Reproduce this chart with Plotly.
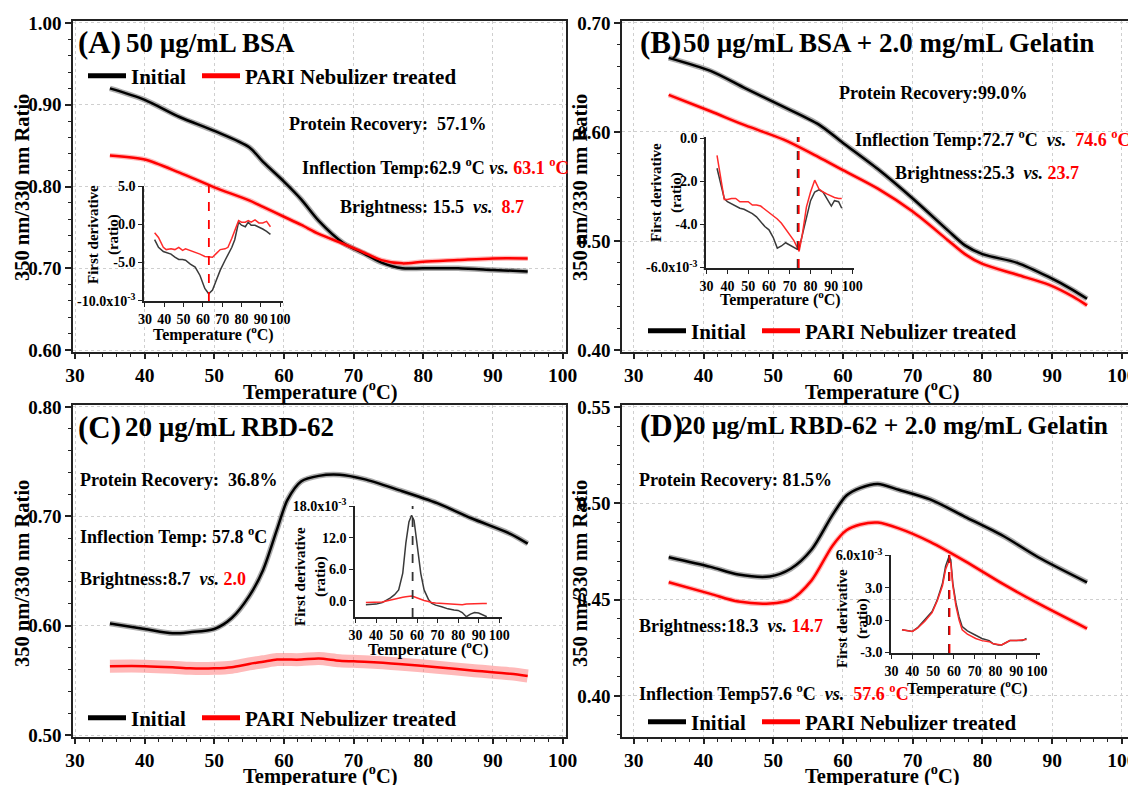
import plotly.graph_objects as go

# The page body adds an 8px margin, so the figure is sized to fill the rest of the window
OFF = 8
W, H = 1136 - OFF, 785 - OFF
FONT = "Liberation Serif"

# ---------------- main curves (350/330 ratio vs temperature) ----------------
a_temp = [35, 40, 45, 50, 55, 57, 60, 62.5, 65, 68.5, 71.5, 74, 77, 80, 85, 90, 95]
a_init = [0.920, 0.906, 0.885, 0.868, 0.848, 0.830, 0.806, 0.784, 0.758, 0.731, 0.718, 0.707, 0.700, 0.700, 0.700, 0.698, 0.696]
a_treat = [0.838, 0.833, 0.817, 0.799, 0.783, 0.775, 0.763, 0.753, 0.742, 0.730, 0.719, 0.710, 0.706, 0.708, 0.710, 0.712, 0.712]

b_temp = [35, 41, 46, 51.5, 56.5, 60, 65, 70, 75, 77.5, 80, 85, 89.5, 93, 95]
b_init = [0.668, 0.656, 0.640, 0.623, 0.607, 0.590, 0.566, 0.539, 0.510, 0.496, 0.488, 0.480, 0.467, 0.455, 0.447]
b_treat = [0.634, 0.619, 0.606, 0.593, 0.577, 0.565, 0.548, 0.527, 0.501, 0.488, 0.479, 0.469, 0.460, 0.449, 0.441]

c_temp = [35, 40, 44, 46.5, 50, 52.5, 55, 57, 59, 60.5, 62.5, 65, 68, 71.5, 76.5, 82, 87, 92.5, 95]
c_init = [0.602, 0.597, 0.593, 0.594, 0.597, 0.607, 0.627, 0.651, 0.688, 0.715, 0.732, 0.737, 0.738, 0.734, 0.724, 0.712, 0.698, 0.684, 0.675]
c_treat = [0.563, 0.563, 0.562, 0.561, 0.561, 0.562, 0.565, 0.567, 0.569, 0.569, 0.569, 0.570, 0.568, 0.567, 0.565, 0.562, 0.559, 0.556, 0.554]

d_temp = [35, 41, 45, 49.5, 52.5, 55.5, 58.5, 60.5, 62.5, 65, 68, 72.5, 77.5, 83, 88, 95]
d_init = [0.472, 0.467, 0.463, 0.462, 0.466, 0.476, 0.494, 0.504, 0.508, 0.510, 0.507, 0.502, 0.493, 0.483, 0.472, 0.459]
d_treat = [0.459, 0.453, 0.449, 0.448, 0.450, 0.460, 0.478, 0.486, 0.489, 0.490, 0.487, 0.480, 0.470, 0.458, 0.448, 0.435]

# ---------------- inset first-derivative curves (x10^-3) ----------------
ai_temp = [35, 37, 39.5, 41, 43.5, 45.5, 47.5, 49.5, 51, 53.5, 56, 58.5, 61, 63, 65, 67, 69, 71.5, 73, 75, 76.5, 78.5, 80, 82, 83.5, 85, 87, 89, 91, 93, 95]
ai_init = [-2.0, -3.0, -3.55, -3.7, -3.9, -4.3, -4.6, -4.6, -4.7, -5.2, -5.6, -6.7, -8.4, -9.1, -8.6, -7.3, -6.0, -4.7, -4.0, -3.0, -2.0, 0.3, -0.1, -0.3, 0.3, -0.1, -0.1, -0.3, -0.6, -0.9, -1.3]
ai_treat = [-1.1, -1.7, -3.0, -3.3, -3.2, -3.3, -3.0, -3.4, -3.2, -3.4, -3.6, -3.9, -4.2, -4.3, -4.3, -3.8, -3.3, -3.2, -3.0, -1.8, -0.9, 0.5, 0.3, 0.3, 0.5, 0.3, 0.6, 0.2, 0.2, 0.4, -0.3]

bi_temp = [35, 37, 38.5, 40, 42, 44, 46, 48, 50, 52, 54, 56, 58, 60, 62, 64, 66, 68, 70, 72, 73.5, 74.5, 76, 78, 80, 82, 84, 86, 88, 90, 91.5, 93.5, 95]
bi_init = [-1.4, -2.2, -2.8, -2.95, -3.05, -3.15, -3.25, -3.3, -3.4, -3.5, -3.65, -3.9, -4.1, -4.25, -4.6, -5.1, -5.0, -4.85, -4.95, -5.05, -5.15, -5.1, -4.5, -3.6, -2.9, -2.5, -2.4, -2.5, -2.85, -3.15, -2.9, -2.95, -3.25]
bi_treat = [-0.8, -2.0, -2.85, -2.85, -2.8, -2.8, -2.95, -2.95, -2.95, -3.1, -3.1, -3.15, -3.3, -3.45, -3.6, -3.75, -3.95, -4.2, -4.45, -4.75, -5.05, -5.25, -4.5, -3.2, -2.5, -1.95, -2.35, -2.5, -2.6, -2.7, -2.75, -2.8, -2.8]

ci_temp = [35, 40, 43, 45, 47, 49, 51, 53, 54.5, 56, 57.3, 58.5, 59.8, 61.8, 63.4, 65.5, 67, 69, 72, 75, 78, 80, 82, 84, 86, 88, 90, 92, 94]
ci_init = [-0.7, -0.6, -0.3, 0.1, 0.6, 1.2, 2.1, 5.3, 11.0, 15.0, 16.3, 15.3, 11.6, 5.2, 2.1, 0.3, -0.4, -0.8, -1.1, -1.5, -1.7, -1.8, -2.2, -3.0, -2.5, -2.2, -2.3, -2.6, -3.0]
ci_treat = [-0.3, -0.3, -0.2, 0.0, 0.2, 0.35, 0.5, 0.7, 0.8, 0.9, 0.95, 0.8, 0.6, 0.3, 0.1, -0.1, -0.3, -0.4, -0.5, -0.6, -0.7, -0.75, -0.7, -0.6, -0.55, -0.5, -0.5, -0.5, -0.5]

di_temp = [35, 38, 40, 42.5, 46, 49.5, 52, 54.5, 56, 57.6, 58.5, 59.5, 61, 62.5, 64, 66.5, 70.5, 73.5, 77, 79, 81.5, 83, 85, 87, 90, 93, 95]
di_init = [-0.9, -1.0, -1.05, -0.7, 0.0, 0.8, 1.9, 3.4, 5.0, 5.9, 5.6, 3.4, 1.6, 0.3, -0.6, -1.0, -1.4, -1.7, -1.9, -2.2, -2.3, -2.3, -2.1, -1.9, -1.9, -1.9, -1.7]
di_treat = [-0.9, -1.0, -1.05, -0.75, -0.1, 0.7, 1.8, 3.2, 4.7, 5.5, 5.3, 3.2, 1.3, 0.0, -0.9, -1.3, -1.7, -1.9, -2.0, -2.2, -2.3, -2.3, -2.1, -1.9, -1.9, -1.85, -1.8]

# inflection temperatures shown by dashed lines in insets
a_tm = {"treat": 63.1}
b_tm = {"init": 73.8, "treat": 74.3}
c_tm = {"init": 57.8}
d_tm = {"init": 57.6, "treat": 57.9}

# ---------------- texts ----------------
series_names = ["Initial", "PARI Nebulizer treated"]
panel_letters = ["(A)", "(B)", "(C)", "(D)"]
panel_titles = ["50 µg/mL BSA", "50 µg/mL BSA + 2.0 mg/mL Gelatin",
                "20 µg/mL RBD-62", "20 µg/mL RBD-62 + 2.0 mg/mL Gelatin"]
title_sizes = [27, 27, 27, 25.5]
RED = "#ff0000"

def red(s):
    return f"<span style='color:{RED}'>{s}</span>"

DEG = "<sup>o</sup>C"
x_title = f"Temperature ({DEG})"
y_title = "350 nm/330 nm Ratio"
inset_y_title = "First derivative<br>(ratio)"
panel_notes = [
    ["Protein Recovery:  57.1%",
     f"Inflection Temp:62.9 {DEG} <i>vs.</i> {red('63.1 ' + DEG)}",
     f"Brightness: 15.5  <i>vs.</i>  {red('8.7')}"],
    ["Protein Recovery:99.0%",
     f"Inflection Temp:72.7 {DEG}  <i>vs.</i>  {red('74.6 ' + DEG)}",
     f"Brightness:25.3  <i>vs.</i> {red('23.7')}"],
    ["Protein Recovery:  36.8%",
     f"Inflection Temp: 57.8 {DEG}",
     f"Brightness:8.7  <i>vs.</i> {red('2.0')}"],
    ["Protein Recovery: 81.5%",
     f"Brightness:18.3  <i>vs.</i> {red('14.7')}",
     f"Inflection Temp57.6 {DEG}  <i>vs.</i>  {red('57.6 ' + DEG)}"],
]

# ---------------- layout helpers (window-pixel boxes) ----------------
def fx(p):
    return (p - OFF) / W

def fy(p):
    return 1 - (p - OFF) / H

def dx(p0, p1):
    return [fx(p0), fx(p1)]

def dy(top, bottom):
    return [fy(bottom), fy(top)]

def fnt(size, color="black", bold=True):
    d = dict(family=FONT, size=size, color=color)
    if bold:
        d["weight"] = "bold"
    return d

AX = "#222222"

def main_xaxis(domain, rng, anchor):
    return dict(domain=domain, range=rng, anchor=anchor, tick0=30, dtick=10, automargin=False,
                ticks="outside", ticklen=5, tickwidth=1.5, tickcolor=AX, tickangle=0,
                ticklabeloverflow="allow",
                showline=True, linecolor=AX, linewidth=1.5, mirror=True,
                showgrid=True, gridcolor="#cfcfcf", griddash="dot", gridwidth=1,
                zeroline=False,
                minor=dict(dtick=2, ticks="outside", ticklen=3, tickwidth=1, tickcolor=AX, showgrid=False),
                tickfont=fnt(19.5))

def main_yaxis(domain, rng, anchor, dtick, minor_dtick):
    return dict(domain=domain, range=rng, anchor=anchor, dtick=dtick, tickformat=".2f", automargin=False,
                ticks="outside", ticklen=6, tickwidth=1.5, tickcolor=AX, ticklabeloverflow="allow",
                showline=True, linecolor=AX, linewidth=1.5, mirror=True,
                showgrid=True, gridcolor="#cfcfcf", griddash="dot", gridwidth=1,
                zeroline=False,
                minor=dict(dtick=minor_dtick, ticks="outside", ticklen=3, tickwidth=1, tickcolor=AX, showgrid=False),
                tickfont=fnt(19))

def inset_xaxis(domain, rng, anchor):
    return dict(domain=domain, range=rng, anchor=anchor, tick0=30, dtick=10, automargin=False,
                ticks="outside", ticklen=4, tickwidth=1.2, tickcolor=AX, tickangle=0,
                ticklabeloverflow="allow",
                showline=True, linecolor=AX, linewidth=1.5, mirror=False,
                showgrid=False, zeroline=False, tickfont=fnt(14))

def inset_yaxis(domain, rng, anchor, vals, texts):
    return dict(domain=domain, range=rng, anchor=anchor, tickvals=vals, ticktext=texts, automargin=False,
                ticks="outside", ticklen=4, tickwidth=1.2, tickcolor=AX, ticklabeloverflow="allow",
                showline=True, linecolor=AX, linewidth=1.5, mirror=False,
                showgrid=False, zeroline=False, tickfont=fnt(14))

fig = go.Figure()

panels = [
    (a_temp, a_init, a_treat, "x", "y", 5),
    (b_temp, b_init, b_treat, "x2", "y2", 5),
    (c_temp, c_init, c_treat, "x3", "y3", 13),
    (d_temp, d_init, d_treat, "x4", "y4", 5),
]
legend_ids = ["legend", "legend2", "legend3", "legend4"]

for i, (t, yi, yt, xa, ya, red_band) in enumerate(panels):
    # raw-signal bands (lighter, wider)
    fig.add_trace(go.Scatter(x=t, y=yi, mode="lines", xaxis=xa, yaxis=ya, showlegend=False,
                             line=dict(color="rgba(90,90,90,0.5)", width=5.5, shape="spline", smoothing=0.8),
                             hoverinfo="skip"))
    fig.add_trace(go.Scatter(x=t, y=yt, mode="lines", xaxis=xa, yaxis=ya, showlegend=False,
                             line=dict(color="rgba(255,100,100,0.45)", width=red_band, shape="spline", smoothing=0.8),
                             hoverinfo="skip"))
    # smoothed curves
    fig.add_trace(go.Scatter(x=t, y=yi, mode="lines", xaxis=xa, yaxis=ya, showlegend=False,
                             line=dict(color="black", width=2.5, shape="spline", smoothing=0.8)))
    fig.add_trace(go.Scatter(x=t, y=yt, mode="lines", xaxis=xa, yaxis=ya, showlegend=False,
                             line=dict(color=RED, width=2.5, shape="spline", smoothing=0.8)))
    # legend entries
    fig.add_trace(go.Scatter(x=[None], y=[None], mode="lines", xaxis=xa, yaxis=ya,
                             name=series_names[0], legend=legend_ids[i], legendwidth=61,
                             line=dict(color="black", width=5)))
    fig.add_trace(go.Scatter(x=[None], y=[None], mode="lines", xaxis=xa, yaxis=ya,
                             name=series_names[1], legend=legend_ids[i],
                             line=dict(color=RED, width=5)))

insets = [
    (ai_temp, ai_init, ai_treat, "x5", "y5", a_tm),
    (bi_temp, bi_init, bi_treat, "x6", "y6", b_tm),
    (ci_temp, ci_init, ci_treat, "x7", "y7", c_tm),
    (di_temp, di_init, di_treat, "x8", "y8", d_tm),
]
shapes = []
for t, yi, yt, xa, ya, tm in insets:
    fig.add_trace(go.Scatter(x=t, y=yi, mode="lines", xaxis=xa, yaxis=ya, showlegend=False,
                             line=dict(color="#3a3a3a", width=1.5)))
    fig.add_trace(go.Scatter(x=t, y=yt, mode="lines", xaxis=xa, yaxis=ya, showlegend=False,
                             line=dict(color="#ff2a2a", width=1.5)))
    for key, col in (("init", "#333333"), ("treat", RED)):
        if key in tm:
            shapes.append(dict(type="line", xref=xa, yref=f"{ya} domain", x0=tm[key], x1=tm[key],
                               y0=0, y1=1, line=dict(color=col, width=1.8, dash="dash")))

# domains (window-pixel boxes)
A_X, B_X = dx(73, 566), dx(622, 1133)
TOP_Y, BOT_Y = dy(21, 352), dy(405, 737)

layout = dict(
    width=W, height=H, margin=dict(l=0, r=0, t=0, b=0, autoexpand=False),
    paper_bgcolor="white", plot_bgcolor="rgba(0,0,0,0)",
    xaxis=main_xaxis(A_X, [29.7, 100.5], "y"),
    yaxis=main_yaxis(TOP_Y, [0.5976, 1.0024], "x", 0.1, 0.02),
    xaxis2=main_xaxis(B_X, [28.3, 101.6], "y2"),
    yaxis2=main_yaxis(TOP_Y, [0.3982, 0.7018], "x2", 0.1, 0.02),
    xaxis3=main_xaxis(A_X, [29.7, 100.5], "y3"),
    yaxis3=main_yaxis(BOT_Y, [0.4982, 0.8018], "x3", 0.1, 0.02),
    xaxis4=main_xaxis(B_X, [28.3, 101.6], "y4"),
    yaxis4=main_yaxis(BOT_Y, [0.3787, 0.551], "x4", 0.05, 0.01),
    xaxis5=inset_xaxis(dx(144, 283), [29.5, 101.5], "y5"),
    yaxis5=inset_yaxis(dy(186, 301), [-10.05, 5.05], "x5", [5, 0, -5, -10],
                       ["5.0", "0.0", "-5.0", "-10.0x10<sup>-3</sup>"]),
    xaxis6=inset_xaxis(dx(706, 854), [29.7, 100.9], "y6"),
    yaxis6=inset_yaxis(dy(137, 268), [-6.02, 0.05], "x6", [0, -2, -4, -6],
                       ["0.0", "-2.0", "-4.0", "-6.0x10<sup>-3</sup>"]),
    xaxis7=inset_xaxis(dx(355, 502), [29.7, 101.4], "y7"),
    yaxis7=inset_yaxis(dy(506, 617), [-3.05, 18.05], "x7", [0, 6, 12, 18],
                       ["0.0", "6.0", "12.0", "18.0x10<sup>-3</sup>"]),
    xaxis8=inset_xaxis(dx(891, 1040), [29.7, 101.5], "y8"),
    yaxis8=inset_yaxis(dy(555, 653), [-3.05, 6.05], "x8", [-3, 0, 3, 6],
                       ["-3.0", "0.0", "3.0", "6.0x10<sup>-3</sup>"]),
    shapes=shapes,
)

legend_pos = [(83, 76), (643, 331), (83, 718), (643, 722)]
for lid, (lx, ly) in zip(legend_ids, legend_pos):
    layout[lid] = dict(orientation="h", x=fx(lx), y=fy(ly), xanchor="left", yanchor="middle",
                       bgcolor="rgba(0,0,0,0)", font=fnt(21), itemwidth=38, tracegroupgap=0)

annotations = []

def ann(text, px, py, size, xanchor="left", angle=0):
    annotations.append(dict(text=text, x=fx(px), y=fy(py), xref="paper", yref="paper",
                            xanchor=xanchor, yanchor="middle", showarrow=False,
                            textangle=angle, font=fnt(size)))

title_pos = [((76, 43), (124, 43)), ((638, 43), (681, 43)), ((76, 427), (123, 427)), ((638, 425), (678, 425))]
for (lp, tp), letter, title, tsz in zip(title_pos, panel_letters, panel_titles, title_sizes):
    ann(letter, lp[0], lp[1], 31)
    ann(title, tp[0], tp[1], tsz)

note_pos = [[(287, 124), (300, 166), (338, 207)],
            [(837, 93), (853, 139), (893, 173)],
            [(78, 480), (78, 535), (78, 579)],
            [(637, 480), (637, 626), (637, 692)]]
for notes, poss in zip(panel_notes, note_pos):
    for txt, (nx, ny) in zip(notes, poss):
        ann(txt, nx, ny, 18)

# main axis titles
for (px, py) in [(320, 390), (882, 390), (320, 774), (882, 774)]:
    ann(x_title, px, py, 20.5, xanchor="center")
for (px, py) in [(22, 188), (580, 188), (22, 574), (580, 574)]:
    ann(y_title, px, py, 20.5, xanchor="center", angle=-90)
# inset axis titles
for (px, py) in [(213, 333), (780, 298), (428, 648), (967, 687)]:
    ann(x_title, px, py, 16, xanchor="center")
for (px, py) in [(104, 235), (666, 193), (310, 577), (852, 619)]:
    ann(inset_y_title, px, py, 15, xanchor="center", angle=-90)

layout["annotations"] = annotations

fig.update_layout(**layout)
fig.write_html("out.html")
